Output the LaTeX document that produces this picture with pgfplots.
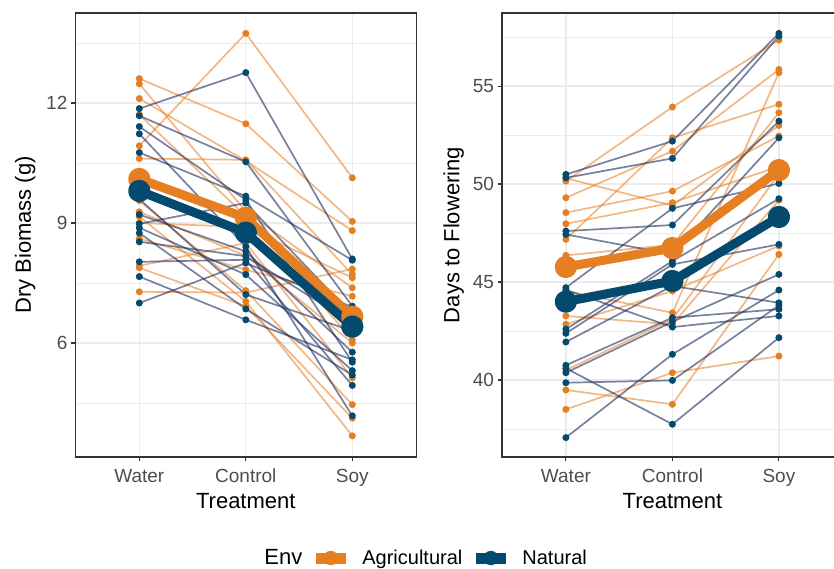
\documentclass[border=0pt]{standalone}
\usepackage{fontspec}
\setmainfont{Liberation Sans}
\usepackage{pgfplots}
\pgfplotsset{compat=1.18}

\definecolor{agri}{HTML}{E67E22}
\definecolor{natu}{HTML}{034A6E}
\definecolor{natline}{HTML}{1E2D5C}
\definecolor{gridc}{HTML}{EBEBEB}
\definecolor{framec}{HTML}{333333}
\definecolor{tickc}{HTML}{4D4D4D}

\pgfplotsset{
  panel/.style={
    scale only axis, width=340.8pt, height=444pt,
    xmin=0.4, xmax=3.6,
    xtick={1,2,3}, xticklabels={Water,Control,Soy},
    xmajorgrids, ymajorgrids, yminorgrids,
    major grid style={draw=gridc, line width=1.3pt},
    minor grid style={draw=gridc, line width=0.7pt},
    axis line style={draw=framec, line width=1.1pt},
    tick style={draw=framec, line width=1.1pt},
    major tick length=4.5pt, minor tick length=0pt,
    tick align=outside, xtick pos=bottom, ytick pos=left,
    /pgf/number format/assume math mode=true,
    ticklabel style={font=\fontsize{19}{22}\selectfont, text=tickc},
    xticklabel shift=4pt,
    label style={font=\fontsize{22}{26}\selectfont},
    xlabel={Treatment},
    clip=false,
  },
  ag/.style={forget plot, draw=agri, draw opacity=0.55, line width=1.7pt,
    mark=*, mark size=2.6pt, mark options={fill=agri, draw=agri, opacity=1}},
  na/.style={forget plot, draw=natline, draw opacity=0.6, line width=1.7pt,
    mark=*, mark size=2.6pt, mark options={fill=natu, draw=natu, opacity=1}},
  meanline/.style={forget plot, line width=9pt, line join=round,
    mark=*, mark size=6.6pt},
}

\newcommand{\ag}[3]{\addplot[ag] coordinates {(1,#1) (2,#2) (3,#3)};}
\newcommand{\na}[3]{\addplot[na] coordinates {(1,#1) (2,#2) (3,#3)};}

\begin{document}
\begin{tikzpicture}
\useasboundingbox (0pt,0pt) rectangle (834pt,569pt);

% left panel: dry biomass
\begin{axis}[panel, at={(75.4pt,112pt)}, anchor=south west,
    ymin=3.15, ymax=14.25, ytick={6,9,12}, minor ytick={4.5,7.5,10.5,13.5},
    ylabel={Dry Biomass (g)}, ylabel shift=4pt,
    legend columns=3,
    legend style={at={(axis description cs:0.513,-0.2275)}, anchor=west,
      draw=none, fill=none, font=\fontsize{20}{23}\selectfont,
      /tikz/every odd column/.append style={column sep=9pt},
      /tikz/every even column/.append style={column sep=6pt},
      /tikz/column 2/.append style={column sep=9pt}},
  ]
\ag{10.93}{13.74}{10.13}
\ag{12.61}{11.48}{9.04}
\ag{12.48}{9.29}{7.38}
\ag{12.11}{10.55}{8.81}
\ag{11.71}{9.17}{6.08}
\ag{10.61}{10.58}{7.71}
\ag{9.56}{7.31}{4.46}
\ag{9.28}{8.18}{6.00}
\ag{9.16}{7.04}{3.68}
\ag{8.61}{7.83}{7.17}
\ag{7.93}{8.50}{5.13}
\ag{7.88}{6.92}{4.12}
\ag{7.28}{7.26}{7.85}
\ag{9.00}{8.90}{7.63}
\na{11.86}{12.76}{8.10}
\na{11.68}{10.53}{6.92}
\na{11.41}{9.58}{5.52}
\na{11.23}{8.41}{4.18}
\na{10.76}{9.67}{8.07}
\na{9.21}{8.29}{5.77}
\na{8.98}{9.50}{6.70}
\na{8.88}{7.71}{5.31}
\na{8.53}{8.17}{6.50}
\na{8.03}{8.08}{4.94}
\na{7.66}{6.58}{5.58}
\na{7.00}{8.00}{6.90}
\na{9.60}{7.21}{6.30}
\na{8.75}{6.85}{5.20}
\addplot[meanline, draw=agri, mark options={fill=agri, draw=agri}]
  coordinates {(1,10.10) (2,9.13) (3,6.66)};
\addplot[meanline, draw=natu, mark options={fill=natu, draw=natu}]
  coordinates {(1,9.80) (2,8.76) (3,6.41)};
\addlegendimage{empty legend}
\addlegendentry{\fontsize{22}{26}\selectfont Env}
\addlegendimage{agri, legend image code/.code={
    \draw[line width=11pt] (0pt,0pt) -- (30pt,0pt);
    \fill (15pt,0pt) circle (7pt);}}
\addlegendentry{Agricultural}
\addlegendimage{natu, legend image code/.code={
    \draw[line width=11pt] (0pt,0pt) -- (30pt,0pt);
    \fill (15pt,0pt) circle (7pt);}}
\addlegendentry{Natural}
\end{axis}

% right panel: days to flowering
\begin{axis}[panel, at={(502pt,112pt)}, anchor=south west,
    ymin=36.07, ymax=58.73, ytick={40,45,50,55},
    minor ytick={37.5,42.5,47.5,52.5,57.5},
    ylabel={Days to Flowering}, ylabel shift=2pt,
  ]
\ag{50.15}{53.93}{57.35}
\ag{50.30}{48.90}{52.99}
\ag{49.30}{51.68}{55.85}
\ag{48.54}{49.64}{52.45}
\ag{47.97}{49.05}{50.90}
\ag{47.18}{52.36}{54.07}
\ag{46.36}{46.90}{53.64}
\ag{44.54}{43.43}{55.68}
\ag{43.27}{42.84}{49.18}
\ag{42.84}{44.54}{46.84}
\ag{40.50}{43.10}{50.50}
\ag{39.49}{38.76}{46.41}
\ag{38.50}{40.37}{41.22}
\na{50.49}{52.19}{57.69}
\na{50.32}{51.31}{57.55}
\na{47.60}{47.91}{53.21}
\na{47.43}{46.41}{52.36}
\na{44.71}{48.76}{50.03}
\na{42.59}{46.07}{49.25}
\na{42.38}{45.90}{46.92}
\na{41.94}{44.80}{43.94}
\na{40.75}{43.18}{43.61}
\na{40.37}{42.97}{45.39}
\na{39.86}{39.98}{43.81}
\na{37.06}{41.31}{44.59}
\na{44.60}{42.70}{43.27}
\na{40.60}{37.74}{42.16}
\addplot[meanline, draw=agri, mark options={fill=agri, draw=agri}]
  coordinates {(1,45.77) (2,46.73) (3,50.71)};
\addplot[meanline, draw=natu, mark options={fill=natu, draw=natu}]
  coordinates {(1,44.00) (2,45.05) (3,48.32)};
\end{axis}
\end{tikzpicture}
\end{document}
